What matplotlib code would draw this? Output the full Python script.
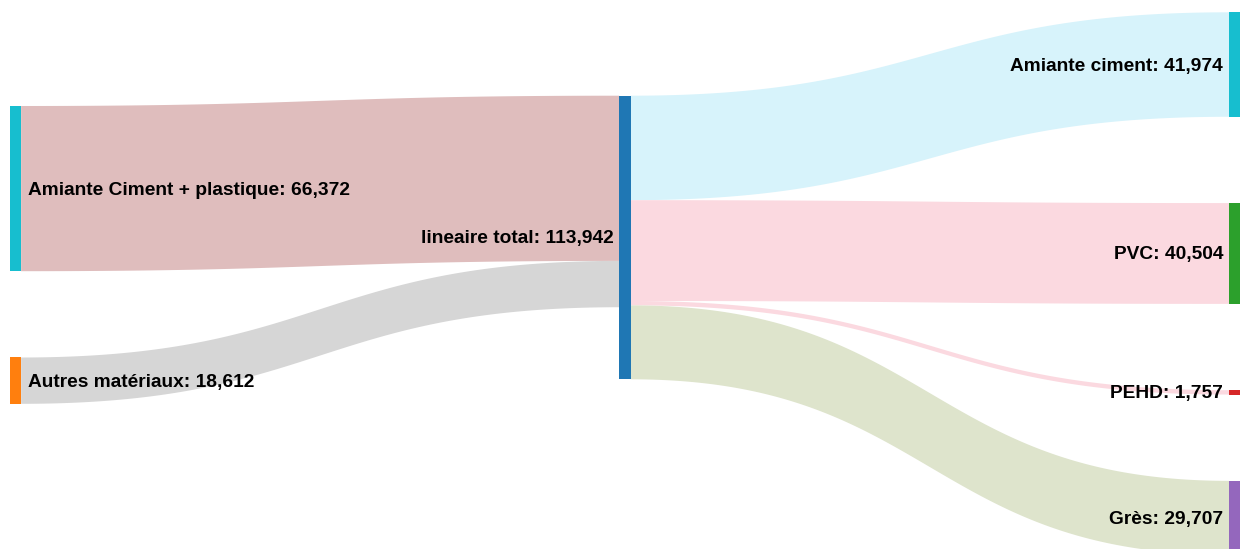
import numpy as np
import matplotlib.pyplot as plt

# data
sources = ["Amiante Ciment + plastique", "Autres matériaux"]
source_values = [66372, 18612]
hub = "lineaire total"
hub_value = 113942
targets = ["Amiante ciment", "PVC", "PEHD", "Grès"]
target_values = [41974, 40504, 1757, 29707]

source_colors = ["#17becf", "#ff7f0e"]
hub_color = "#1f77b4"
target_colors = ["#17becf", "#2ca02c", "#d62728", "#9467bd"]
in_link_colors = ["#dfbdbd", "#d6d6d6"]
out_link_colors = ["#d7f3fb", "#fbd9e0", "#fbd9e0", "#dee4cc"]

# layout (pixels)
W, H = 1242, 549
scale = 283.6 / hub_value
pad = 86.3
node_w = 11.4
col_x = [9.7, 619.3, 1229.0]
col_top = [106.0, 95.7, 12.3]
text_dy = 1.5


def stack(values, top):
    spans = []
    y = top
    for v in values:
        h = v * scale
        spans.append((y, y + h))
        y += h + pad
    return spans


def band(ax, x0, x1, a, b, color):
    t = np.linspace(0, 1, 120)
    xm = (x0 + x1) / 2
    bx = (1 - t) ** 3 * x0 + 3 * (1 - t) ** 2 * t * xm + 3 * (1 - t) * t ** 2 * xm + t ** 3 * x1
    s = 3 * t ** 2 - 2 * t ** 3
    top = a[0] + (b[0] - a[0]) * s
    bot = a[1] + (b[1] - a[1]) * s
    ax.fill(np.r_[bx, bx[::-1]], np.r_[top, bot[::-1]], color=color, lw=0)


fig = plt.figure(figsize=(W / 100, H / 100), dpi=100)
ax = fig.add_axes([0, 0, 1, 1])
ax.set_xlim(0, W)
ax.set_ylim(H, 0)
ax.axis("off")

src_spans = stack(source_values, col_top[0])
hub_span = (col_top[1], col_top[1] + hub_value * scale)
tgt_spans = stack(target_values, col_top[2])

# links into hub
y = hub_span[0]
for v, sp, c in zip(source_values, src_spans, in_link_colors):
    h = v * scale
    band(ax, col_x[0] + node_w, col_x[1], sp, (y, y + h), c)
    y += h

# links out of hub
y = hub_span[0]
for v, sp, c in zip(target_values, tgt_spans, out_link_colors):
    h = v * scale
    band(ax, col_x[1] + node_w, col_x[2], (y, y + h), sp, c)
    y += h

# nodes
for sp, c in zip(src_spans, source_colors):
    ax.add_patch(plt.Rectangle((col_x[0], sp[0]), node_w, sp[1] - sp[0], color=c, lw=0))
ax.add_patch(plt.Rectangle((col_x[1], hub_span[0]), node_w, hub_span[1] - hub_span[0], color=hub_color, lw=0))
for sp, c in zip(tgt_spans, target_colors):
    ax.add_patch(plt.Rectangle((col_x[2], sp[0]), node_w, max(sp[1] - sp[0], 2.5), color=c, lw=0))

font = dict(family="Liberation Sans", fontweight="bold", fontsize=13.75, color="#000000")
for name, v, sp in zip(sources, source_values, src_spans):
    ax.text(col_x[0] + node_w + 7, (sp[0] + sp[1]) / 2 + text_dy, f"{name}: {v:,}", ha="left", va="center", **font)
ax.text(col_x[1] - 6, sum(hub_span) / 2 + text_dy, f"{hub}: {hub_value:,}", ha="right", va="center", **font)
for name, v, sp in zip(targets, target_values, tgt_spans):
    ax.text(col_x[2] - 6, (sp[0] + sp[1]) / 2 + text_dy, f"{name}: {v:,}", ha="right", va="center", **font)

fig.savefig("out.png", dpi=100)
